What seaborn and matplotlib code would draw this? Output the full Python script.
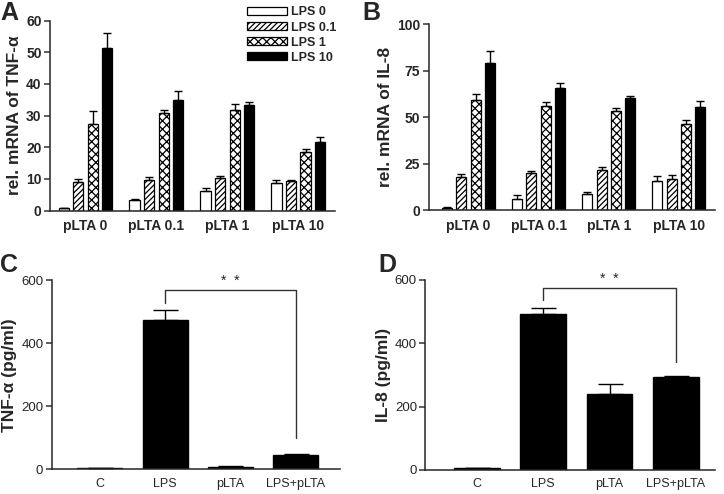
import matplotlib
matplotlib.use("Agg")
import matplotlib.pyplot as plt
import numpy as np
import pandas as pd
import seaborn as sns

# panel A / B: relative mRNA, grouped by pLTA dose, hue = LPS dose
plta_groups = ["pLTA 0", "pLTA 0.1", "pLTA 1", "pLTA 10"]
lps_levels = ["LPS 0", "LPS 0.1", "LPS 1", "LPS 10"]

tnf_mrna = {
    "LPS 0": [0.8, 3.3, 6.3, 8.7],
    "LPS 0.1": [9.2, 9.6, 10.3, 9.4],
    "LPS 1": [27.3, 30.8, 31.8, 18.6],
    "LPS 10": [51.3, 34.9, 33.3, 21.6],
}
tnf_mrna_err = {
    "LPS 0": [0.2, 0.5, 1.0, 1.0],
    "LPS 0.1": [0.8, 1.0, 0.5, 0.4],
    "LPS 1": [4.0, 1.0, 1.8, 1.0],
    "LPS 10": [4.8, 2.9, 1.0, 1.8],
}
il8_mrna = {
    "LPS 0": [1.2, 6.0, 9.0, 16.0],
    "LPS 0.1": [18.0, 20.0, 21.5, 17.0],
    "LPS 1": [59.5, 56.0, 53.5, 46.5],
    "LPS 10": [79.0, 65.5, 60.5, 55.3],
}
il8_mrna_err = {
    "LPS 0": [0.5, 2.0, 1.0, 2.3],
    "LPS 0.1": [1.5, 1.0, 2.0, 2.0],
    "LPS 1": [3.0, 2.0, 1.3, 1.8],
    "LPS 10": [6.5, 2.7, 0.7, 3.5],
}

# panel C / D: secreted protein
treatments = ["C", "LPS", "pLTA", "LPS+pLTA"]
tnf_protein = [5, 475, 8, 45]
tnf_protein_err = [0, 30, 2, 3]
il8_protein = [5, 493, 240, 293]
il8_protein_err = [0, 20, 32, 5]

# significance bracket: (left bar, right bar, top, left leg end, right leg end)
sig_c = (1, 3, 570, 526, 98)
sig_d = (1, 3, 576, 537, 342)

sns.set_theme(style="ticks")
plt.rcParams["font.family"] = ["Liberation Sans", "DejaVu Sans"]
plt.rcParams["hatch.linewidth"] = 0.9
plt.rcParams["axes.linewidth"] = 1.1

hatches = {"LPS 0": "", "LPS 0.1": "//////", "LPS 1": "xxxx", "LPS 10": ""}
faces = {"LPS 0": "white", "LPS 0.1": "white", "LPS 1": "white", "LPS 10": "black"}


def to_long(values):
    rows = []
    for lps in lps_levels:
        for g, v in zip(plta_groups, values[lps]):
            rows.append({"pLTA": g, "LPS": lps, "value": v})
    return pd.DataFrame(rows)


def style_axis(ax, weight):
    sns.despine(ax=ax)
    ax.tick_params(axis="both", length=4, width=1.1, color="#333333", pad=2)
    ax.tick_params(axis="x", length=0, pad=6)
    for t in ax.get_xticklabels() + ax.get_yticklabels():
        t.set_fontweight(weight)


def grouped_panel(ax, values, errs, ymax, yticks, ylabel, legend):
    df = to_long(values)
    sns.barplot(data=df, x="pLTA", y="value", hue="LPS", order=plta_groups,
                hue_order=lps_levels, errorbar=None, width=0.82, gap=0.3,
                palette=faces, edgecolor="black", linewidth=0.9,
                legend=legend, ax=ax)
    for lps, cont in zip(lps_levels, ax.containers):
        xs, ys = [], []
        for bar in cont:
            bar.set_hatch(hatches[lps])
            xs.append(bar.get_x() + bar.get_width() / 2)
            ys.append(bar.get_height())
        e = np.array(errs[lps])
        ax.errorbar(xs, ys, yerr=[np.zeros_like(e), e], fmt="none",
                    ecolor="black", elinewidth=1, capsize=3, capthick=1, zorder=1)
    ax.set_ylim(0, ymax)
    ax.set_yticks(yticks)
    ax.set_xlim(-0.5, 3.52)
    ax.set_xlabel("")
    ax.set_ylabel(ylabel, fontsize=12.5, fontweight="bold", labelpad=3)
    style_axis(ax, "bold")
    ax.tick_params(axis="x", labelsize=10)
    ax.tick_params(axis="y", labelsize=10)
    if legend:
        leg = ax.legend(loc="upper right", bbox_to_anchor=(1.02, 1.1), frameon=False,
                        handlelength=3.2, handleheight=0.6, labelspacing=0.25,
                        handletextpad=0.3, borderaxespad=0, prop={"weight": "bold", "size": 9})
        for h, lps in zip(leg.legend_handles, lps_levels):
            h.set_hatch(hatches[lps])
            h.set_edgecolor("black")


def simple_panel(ax, values, errs, ylabel, sig, xlim):
    df = pd.DataFrame({"treatment": treatments, "value": values})
    sns.barplot(data=df, x="treatment", y="value", order=treatments, color="black",
                errorbar=None, width=0.69, edgecolor="black", ax=ax)
    xs = [b.get_x() + b.get_width() / 2 for b in ax.patches]
    e = np.array(errs)
    ax.errorbar(xs, values, yerr=[np.zeros_like(e), e], fmt="none", ecolor="black",
                elinewidth=1, capsize=9, capthick=1, zorder=1)
    x0, x1, top, l0, l1 = sig
    ax.plot([x0, x0, x1, x1], [l0, top, top, l1], color="#333333", lw=1, clip_on=False)
    ax.text((x0 + x1) / 2, top + 6, "*  *", ha="center", va="bottom", fontsize=10)
    ax.set_ylim(0, 600)
    ax.set_yticks([0, 200, 400, 600])
    ax.set_xlim(*xlim)
    ax.set_xlabel("")
    ax.set_ylabel(ylabel, fontsize=12.5, fontweight="bold", labelpad=3)
    style_axis(ax, "normal")
    ax.tick_params(axis="x", labelsize=9)
    ax.tick_params(axis="y", labelsize=9.5)


fig = plt.figure(figsize=(7.24, 4.94), dpi=100)
axA = fig.add_axes([0.069, 0.5735, 0.394, 0.385])
axB = fig.add_axes([0.592, 0.5743, 0.395, 0.3765])
axC = fig.add_axes([0.0714, 0.050, 0.398, 0.383])
axD = fig.add_axes([0.5874, 0.0486, 0.400, 0.3846])

grouped_panel(axA, tnf_mrna, tnf_mrna_err, 60, [0, 10, 20, 30, 40, 50, 60],
              "rel. mRNA of TNF-\u03b1", True)
grouped_panel(axB, il8_mrna, il8_mrna_err, 100, [0, 25, 50, 75, 100],
              "rel. mRNA of IL-8", False)
axB.set_xlim(-0.57, 3.51)
simple_panel(axC, tnf_protein, tnf_protein_err, "TNF-\u03b1 (pg/ml)", sig_c, (-0.74, 3.68))
simple_panel(axD, il8_protein, il8_protein_err, "IL-8 (pg/ml)", sig_d, (-0.78, 3.59))

for label, (x, y) in zip("ABCD", [(0.0, 0.997), (0.5, 0.997), (0.0, 0.487), (0.522, 0.487)]):
    fig.text(x, y, label, fontsize=18, fontweight="bold", ha="left", va="top")

fig.savefig("out.png", dpi=100)
